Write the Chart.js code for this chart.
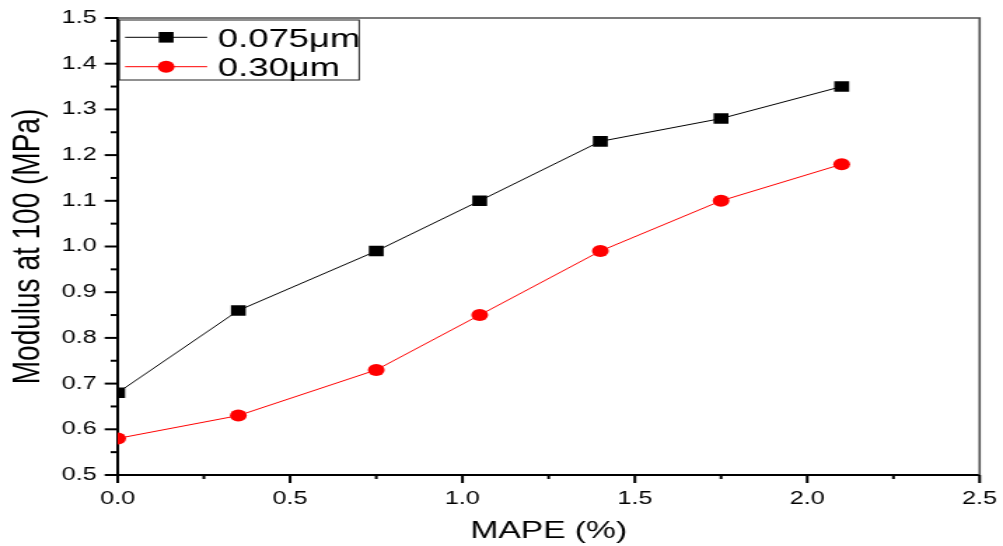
<!DOCTYPE html>
<html>
<head>
<meta charset="utf-8">
<script src="https://cdn.jsdelivr.net/npm/chart.js@4.4.1/dist/chart.umd.min.js"></script>
<style>
  html, body { margin: 0; padding: 0; background: #fff; overflow: hidden; }
  #wrap { width: 716px; height: 546px; transform: scaleX(1.40084); transform-origin: 0 0; }
</style>
</head>
<body>
<div id="wrap"><canvas id="c"></canvas></div>
<script>
// ---- data ----
const mape = [0, 0.35, 0.75, 1.05, 1.4, 1.75, 2.1];
const mod075 = [0.68, 0.86, 0.99, 1.10, 1.23, 1.28, 1.35];
const mod030 = [0.58, 0.63, 0.73, 0.85, 0.99, 1.10, 1.18];
const seriesLabels = ['0.075\u03bcm', '0.30\u03bcm'];
const xTickLabels = ['0.0', '0.5', '1.0', '1.5', '2.0', '2.5'];
const yTickLabels = ['0.5', '0.6', '0.7', '0.8', '0.9', '1.0', '1.1', '1.2', '1.3', '1.4', '1.5'];
const xTitle = 'MAPE (%)';
const yTitle = 'Modulus at 100 (MPa)';

const FONT = "'Liberation Sans', Arial, sans-serif";

function pts(xs, ys) { return xs.map((x, i) => ({ x: x, y: ys[i] })); }

const tickPlugin = {
  id: 'ticksAndFrame',
  afterDraw(chart) {
    const ctx = chart.ctx, a = chart.chartArea;
    const xs = chart.scales.x, ys = chart.scales.y;
    ctx.save();
    ctx.strokeStyle = '#505050';
    ctx.lineWidth = 1.6;
    ctx.beginPath();
    ctx.moveTo(a.left, a.top); ctx.lineTo(a.right, a.top); ctx.lineTo(a.right, a.bottom);
    ctx.stroke();
    ctx.strokeStyle = '#000';
    ctx.lineWidth = 2;
    ys.ticks.forEach(t => {
      const y = ys.getPixelForValue(t.value);
      const major = t.label !== '';
      ctx.beginPath();
      ctx.moveTo(a.left - (major ? 9.3 : 5), y); ctx.lineTo(a.left, y);
      ctx.stroke();
    });
    xs.ticks.forEach(t => {
      const x = xs.getPixelForValue(t.value);
      const major = t.label !== '';
      ctx.beginPath();
      ctx.moveTo(x, a.bottom); ctx.lineTo(x, a.bottom + (major ? 8 : 4));
      ctx.stroke();
    });
    ctx.restore();
  }
};

const legendPlugin = {
  id: 'boxLegend',
  afterDatasetsDraw(chart) {
    const ctx = chart.ctx, a = chart.chartArea;
    const bx = a.left + 1.2, by = a.top + 2, bw = 171.2, bh = 60;
    ctx.save();
    ctx.fillStyle = '#fff';
    ctx.fillRect(bx, by, bw, bh);
    ctx.strokeStyle = '#222';
    ctx.lineWidth = 1;
    ctx.strokeRect(bx, by, bw, bh);
    chart.data.datasets.forEach((ds, i) => {
      const cy = by + 17.3 + i * 29.4;
      ctx.strokeStyle = ds.borderColor;
      ctx.lineWidth = 1;
      ctx.beginPath();
      ctx.moveTo(bx + 4.1, cy); ctx.lineTo(bx + 62.7, cy);
      ctx.stroke();
      ctx.fillStyle = ds.pointBackgroundColor;
      ctx.strokeStyle = ds.pointBorderColor;
      Chart.helpers.drawPoint(ctx, { pointStyle: ds.pointStyle, radius: ds.pointRadius, borderWidth: 0, rotation: 0 }, bx + 33.4, cy);
      ctx.fillStyle = '#000';
      ctx.font = '26px ' + FONT;
      ctx.textBaseline = 'alphabetic';
      ctx.textAlign = 'left';
      ctx.fillText(ds.label, bx + 70.3, cy + 9.4);
    });
    ctx.restore();
  }
};

new Chart(document.getElementById('c'), {
  type: 'line',
  data: {
    datasets: [
      {
        label: seriesLabels[0],
        data: pts(mape, mod075),
        borderColor: '#000000',
        borderWidth: 1,
        pointStyle: 'rect',
        pointRadius: 7.5,
        pointBackgroundColor: '#000000',
        pointBorderColor: '#000000',
        pointBorderWidth: 0,
        tension: 0
      },
      {
        label: seriesLabels[1],
        data: pts(mape, mod030),
        borderColor: '#ff0000',
        borderWidth: 1,
        pointStyle: 'circle',
        pointRadius: 6,
        pointBackgroundColor: '#ff0000',
        pointBorderColor: '#ff0000',
        pointBorderWidth: 0,
        tension: 0
      }
    ]
  },
  options: {
    responsive: true,
    maintainAspectRatio: false,
    animation: false,
    events: [],
    layout: { padding: { top: 18, right: 16.7, left: 0, bottom: 0 } },
    plugins: { legend: { display: false }, tooltip: { enabled: false } },
    scales: {
      x: {
        type: 'linear',
        min: 0, max: 2.5,
        afterFit(s) { s.height = 71; s.paddingLeft = 0; s.paddingRight = 0; },
        ticks: {
          stepSize: 0.25,
          autoSkip: false,
          maxRotation: 0,
          padding: 13,
          color: '#000',
          font: { family: FONT, size: 18 },
          callback(v, i) { return i % 2 === 0 ? xTickLabels[i / 2] : ''; }
        },
        grid: { drawOnChartArea: false, drawTicks: false },
        border: { display: true, color: '#000', width: 2 },
        title: { display: true, text: xTitle, color: '#000', font: { family: FONT, size: 24 }, padding: { top: 0, bottom: 0 } }
      },
      y: {
        min: 0.5, max: 1.5,
        afterFit(s) { s.width = 84; s.paddingTop = 0; s.paddingBottom = 0; },
        ticks: {
          stepSize: 0.05,
          autoSkip: false,
          padding: 15,
          color: '#000',
          font: { family: FONT, size: 18 },
          callback(v, i) { return i % 2 === 0 ? yTickLabels[i / 2] : ''; }
        },
        grid: { drawOnChartArea: false, drawTicks: false },
        border: { display: true, color: '#000', width: 2 },
        title: { display: true, text: yTitle, color: '#000', font: { family: FONT, size: 28 }, padding: { top: 3, bottom: 0 } }
      }
    }
  },
  plugins: [tickPlugin, legendPlugin]
});
</script>
</body>
</html>
